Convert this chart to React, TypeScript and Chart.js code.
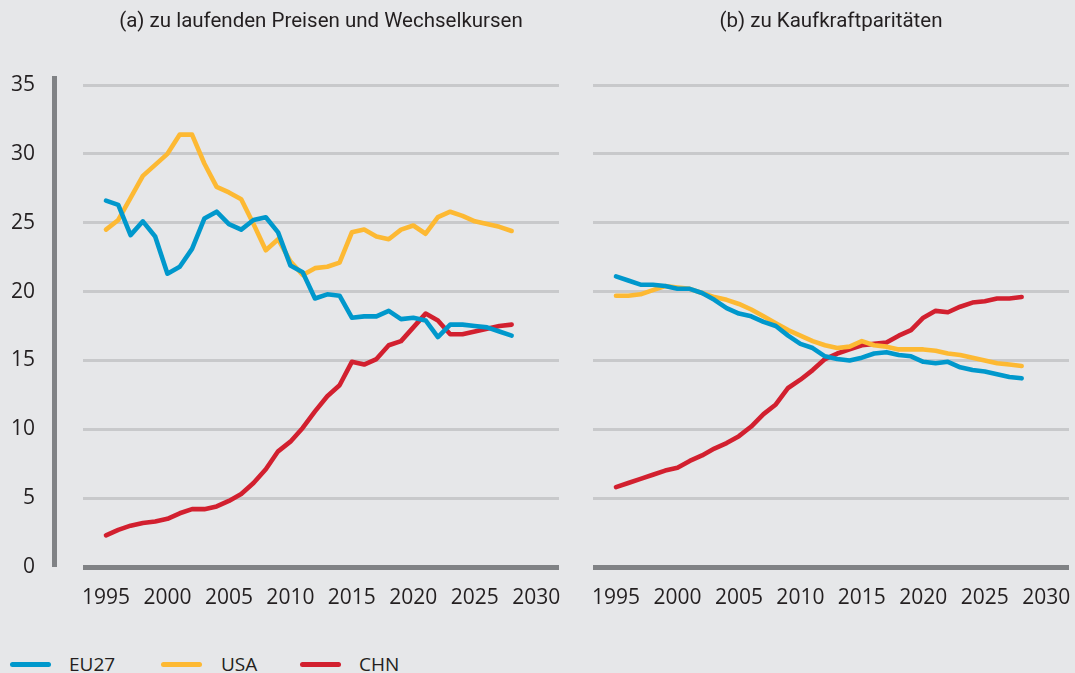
import React, { useEffect, useRef } from "react";
import Chart from "chart.js/auto";

const years = [1995, 1996, 1997, 1998, 1999, 2000, 2001, 2002, 2003, 2004, 2005, 2006, 2007, 2008, 2009, 2010, 2011, 2012, 2013, 2014, 2015, 2016, 2017, 2018, 2019, 2020, 2021, 2022, 2023, 2024, 2025, 2026, 2027, 2028];
const xTickLabels = [1995, 2000, 2005, 2010, 2015, 2020, 2025, 2030];
const yTickLabels = [0, 5, 10, 15, 20, 25, 30, 35];

const seriesNames = ["EU27", "USA", "CHN"];

const eu27Current = [26.6, 26.3, 24.1, 25.1, 24.0, 21.3, 21.8, 23.1, 25.3, 25.8, 24.9, 24.5, 25.2, 25.4, 24.3, 21.9, 21.4, 19.5, 19.8, 19.7, 18.1, 18.2, 18.2, 18.6, 18.0, 18.1, 17.9, 16.7, 17.6, 17.6, 17.5, 17.4, 17.1, 16.8];
const usaCurrent = [24.5, 25.2, 26.8, 28.4, 29.2, 30.0, 31.4, 31.4, 29.3, 27.6, 27.2, 26.7, 24.9, 23.0, 23.8, 22.2, 21.2, 21.7, 21.8, 22.1, 24.3, 24.5, 24.0, 23.8, 24.5, 24.8, 24.2, 25.4, 25.8, 25.5, 25.1, 24.9, 24.7, 24.4];
const chnCurrent = [2.3, 2.7, 3.0, 3.2, 3.3, 3.5, 3.9, 4.2, 4.2, 4.4, 4.8, 5.3, 6.1, 7.1, 8.4, 9.1, 10.1, 11.3, 12.4, 13.2, 14.9, 14.7, 15.1, 16.1, 16.4, 17.4, 18.4, 17.9, 16.9, 16.9, 17.1, 17.3, 17.5, 17.6];

const eu27Ppp = [21.1, 20.8, 20.5, 20.5, 20.4, 20.2, 20.2, 19.9, 19.4, 18.8, 18.4, 18.2, 17.8, 17.5, 16.8, 16.2, 15.9, 15.3, 15.1, 15.0, 15.2, 15.5, 15.6, 15.4, 15.3, 14.9, 14.8, 14.9, 14.5, 14.3, 14.2, 14.0, 13.8, 13.7];
const usaPpp = [19.7, 19.7, 19.8, 20.1, 20.4, 20.3, 20.2, 19.9, 19.6, 19.4, 19.1, 18.7, 18.2, 17.7, 17.2, 16.8, 16.4, 16.1, 15.9, 16.0, 16.4, 16.1, 16.0, 15.8, 15.8, 15.8, 15.7, 15.5, 15.4, 15.2, 15.0, 14.8, 14.7, 14.6];
const chnPpp = [5.8, 6.1, 6.4, 6.7, 7.0, 7.2, 7.7, 8.1, 8.6, 9.0, 9.5, 10.2, 11.1, 11.8, 13.0, 13.6, 14.3, 15.1, 15.5, 15.8, 16.1, 16.2, 16.3, 16.8, 17.2, 18.1, 18.6, 18.5, 18.9, 19.2, 19.3, 19.5, 19.5, 19.6];

const titles = ["(a) zu laufenden Preisen und Wechselkursen", "(b) zu Kaufkraftparitäten"];

const COLORS = ["#0098cc", "#fdb933", "#d2202f"];
const BG = "#e6e7e9";
const GRID = "#c8c9cb";
const AXIS = "#808285";
const TEXT = "#231f20";
const FONT = "'Open Sans', 'DejaVu Sans', sans-serif";
const TITLE_FONT = "Roboto, 'Open Sans', sans-serif";
const XMIN = 1993.13;
const XMAX = 2031.85;
const CANVAS_H = 630;

type PanelProps = {
  series: number[][];
  left: number;
  width: number;
  yAxisWidth: number;
  padRight: number;
  showYLabels: boolean;
};

function Panel({ series, left, width, yAxisWidth, padRight, showYLabels }: PanelProps) {
  const ref = useRef<HTMLCanvasElement | null>(null);
  useEffect(() => {
    if (!ref.current) return;
    const axisLinePlugin = {
      id: "axisLine",
      afterDraw(chart: any) {
        if (!showYLabels) return;
        const ctx = chart.ctx;
        ctx.save();
        ctx.fillStyle = AXIS;
        ctx.fillRect(52, 76, 5, 491);
        ctx.restore();
      },
    };
    const chart = new Chart(ref.current, {
      type: "line",
      data: {
        datasets: series.map((vals, i) => ({
          label: seriesNames[i],
          data: years.map((y, j) => ({ x: y, y: vals[j] })),
          borderColor: COLORS[i],
          backgroundColor: COLORS[i],
          borderWidth: 4.6,
          pointRadius: 0,
          tension: 0,
          borderJoinStyle: "round",
          borderCapStyle: "round",
          fill: false,
        })),
      },
      options: {
        animation: false,
        responsive: false,
        maintainAspectRatio: false,
        layout: { padding: { left: 0, right: padRight, top: 85, bottom: 0 } },
        plugins: { legend: { display: false }, tooltip: { enabled: false }, title: { display: false } },
        scales: {
          x: {
            type: "linear",
            min: XMIN,
            max: XMAX,
            afterBuildTicks: (s: any) => {
              s.ticks = xTickLabels.map((v) => ({ value: v }));
            },
            grid: { display: false },
            border: { display: false },
            ticks: {
              autoSkip: false,
              maxRotation: 0,
              padding: 10,
              color: TEXT,
              font: { family: FONT, size: 21 },
              callback: (v: any) => String(v),
            },
            afterFit: (s: any) => {
              s.height = CANVAS_H - 567;
            },
          },
          y: {
            min: 0,
            max: 35,
            afterBuildTicks: (s: any) => {
              s.ticks = yTickLabels.map((v) => ({ value: v }));
            },
            border: { display: false },
            grid: {
              drawTicks: false,
              color: (c: any) => (c.tick && c.tick.value === 0 ? AXIS : GRID),
              lineWidth: (c: any) => (c.tick && c.tick.value === 0 ? 5 : 3),
            },
            ticks: {
              display: showYLabels,
              padding: 48,
              color: TEXT,
              font: { family: FONT, size: 21 },
              callback: (v: any) => String(v),
            },
            afterFit: (s: any) => {
              s.width = yAxisWidth;
            },
          },
        },
      },
      plugins: [axisLinePlugin],
    } as any);
    return () => chart.destroy();
  }, []);
  return (
    <canvas
      ref={ref}
      width={width}
      height={CANVAS_H}
      style={{ position: "absolute", left, top: 0, width, height: CANVAS_H }}
    />
  );
}

export default function App() {
  useEffect(() => {
    document.body.style.margin = "0";
    document.body.style.background = BG;
  }, []);
  const titleStyle: React.CSSProperties = {
    position: "absolute",
    top: 7,
    width: 476,
    textAlign: "center",
    fontFamily: TITLE_FONT,
    fontSize: 20.5,
    lineHeight: "26px",
    color: TEXT,
    whiteSpace: "nowrap",
  };
  const legendX = [[10, 69], [161, 221], [300, 359]];
  return (
    <div style={{ position: "relative", width: 1075, height: 673, background: BG, overflow: "hidden" }}>
      <Panel series={[eu27Current, usaCurrent, chnCurrent]} left={0} width={575} yAxisWidth={83} padRight={16} showYLabels={true} />
      <Panel series={[eu27Ppp, usaPpp, chnPpp]} left={575} width={530} yAxisWidth={18} padRight={36} showYLabels={false} />
      <div style={{ ...titleStyle, left: 83 }}>{titles[0]}</div>
      <div style={{ ...titleStyle, left: 593 }}>{titles[1]}</div>
      {seriesNames.map((name, i) => (
        <React.Fragment key={name}>
          <div
            style={{
              position: "absolute",
              left: legendX[i][0],
              top: 662,
              width: 41,
              height: 5,
              borderRadius: 3,
              background: COLORS[i],
            }}
          />
          <div
            style={{
              position: "absolute",
              left: legendX[i][1],
              top: 651,
              fontFamily: FONT,
              fontSize: 19,
              lineHeight: "26px",
              color: TEXT,
            }}
          >
            {name}
          </div>
        </React.Fragment>
      ))}
    </div>
  );
}
